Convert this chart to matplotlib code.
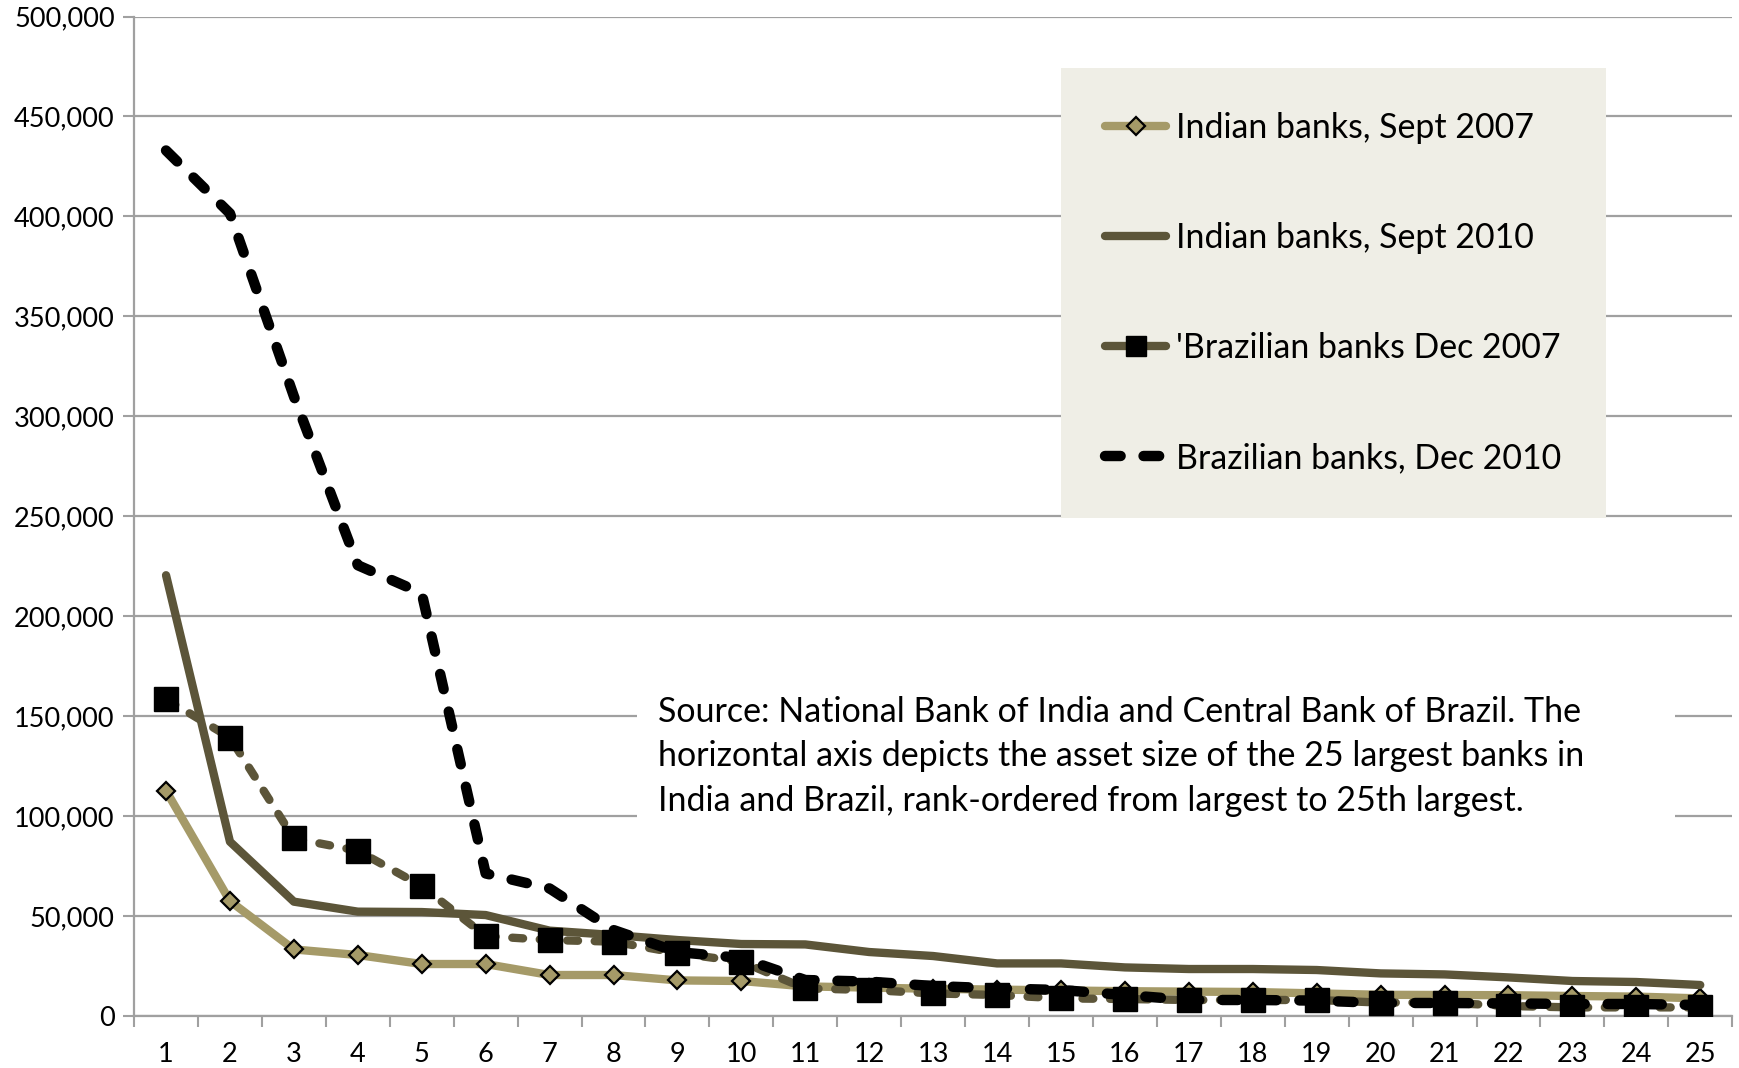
import matplotlib
matplotlib.use("Agg")
import matplotlib.pyplot as plt
import numpy as np
from matplotlib.patches import Rectangle
from matplotlib.ticker import FuncFormatter, MultipleLocator

plt.rcParams['font.family'] = ['Lato', 'DejaVu Sans']

# asset size of the 25 largest banks, rank ordered
ranks = np.arange(1, 26)
india_2007 = [112700, 57500, 33300, 30500, 26000, 26000, 20500, 20500, 17800, 17500,
              14800, 14200, 13600, 13200, 12800, 12400, 12200, 12000, 11300, 10600,
              10500, 10400, 10000, 9700, 8800]
india_2010 = [220500, 87200, 57200, 52200, 52000, 50500, 42700, 40500, 38000, 36000,
              35800, 32000, 30000, 26300, 26300, 24300, 23500, 23500, 23000, 21300,
              20800, 19300, 17500, 17000, 15500]
brazil_2007 = [158500, 139300, 88800, 82700, 65000, 40000, 38000, 37200, 31500, 27200,
               13800, 13000, 11300, 10500, 8800, 8500, 8000, 8000, 8000, 6700,
               6700, 5000, 4300, 4300, 4300]
brazil_2010 = [433000, 401500, 310000, 225500, 211500, 71300, 63800, 43000, 32000, 29000,
               18000, 17200, 15000, 13800, 13000, 10500, 8000, 8000, 7700, 6500,
               6500, 6300, 6000, 6000, 5500]

labels = ["Indian banks, Sept 2007", "Indian banks, Sept 2010",
          "'Brazilian banks Dec 2007", "Brazilian banks, Dec 2010"]
note = ("Source: National Bank of India and Central Bank of Brazil. The\n"
        "horizontal axis depicts the asset size of the 25 largest banks in\n"
        "India and Brazil, rank-ordered from largest to 25th largest.")

tan = '#A59A68'
olive = '#5C5539'
grid = '#A0A0A0'

fig = plt.figure(figsize=(17.39, 10.68), dpi=100)
ax = fig.add_axes([0.0771, 0.0487, 0.919, 0.9358])

ax.plot(ranks, india_2007, color=tan, lw=6, marker='D', ms=9.5, mfc=tan, mec='black',
        mew=1.6, solid_capstyle='round', zorder=3, label=labels[0])
ax.plot(ranks, india_2010, color=olive, lw=6, solid_capstyle='round', zorder=4,
        label=labels[1])
l3, = ax.plot(ranks, brazil_2007, color=olive, lw=6, ls=(0, (1.3, 2.0)), marker='s',
              ms=17.5, mfc='black', mec='black', dash_capstyle='round', zorder=5,
              label=labels[2])
l4, = ax.plot(ranks, brazil_2010, color='black', lw=7.5, ls=(0, (1.5, 2.2)),
              dash_capstyle='round', zorder=6, label=labels[3])

ax.set_xlim(0.5, 25.5)
ax.set_ylim(0, 500000)
ax.yaxis.set_major_locator(MultipleLocator(50000))
ax.yaxis.set_major_formatter(FuncFormatter(lambda v, p: f"{int(v):,}"))
ax.set_xticks(ranks)
ax.set_xticks(np.arange(0.5, 26, 1), minor=True)
ax.tick_params(axis='x', which='major', length=0, labelsize=19.5, pad=19)
ax.tick_params(axis='x', which='minor', length=8, color=grid, width=1.5)
ax.tick_params(axis='y', length=8, color=grid, width=1.5, labelsize=19.5, pad=6)
ax.grid(axis='y', color=grid, lw=1.6, zorder=0)
ax.set_axisbelow(True)
for s in ['top', 'right']:
    ax.spines[s].set_visible(False)
for s in ['left', 'bottom']:
    ax.spines[s].set_color(grid)
    ax.spines[s].set_linewidth(1.6)

# white panel behind the source note hides the gridlines
ax.add_patch(Rectangle((0.315, 0.173), 0.649, 0.178, transform=ax.transAxes,
                       facecolor='white', edgecolor='none', zorder=1))
ax.text(0.3277, 0.3205, note, transform=ax.transAxes, fontsize=24.5, va='top', ha='left',
        linespacing=1.48, zorder=2)

# legend shows the Brazil 2007 line as solid
h3 = plt.Line2D([], [], color=olive, lw=6, marker='s', ms=15, mfc='black',
                mec='black', solid_capstyle='round')
handles = [ax.lines[0], ax.lines[1], h3, l4]
leg = ax.legend(handles, labels, loc='upper left', bbox_to_anchor=(0.58, 0.9486),
                fontsize=24.4, frameon=True, fancybox=False, handlelength=1.8,
                handletextpad=0.3, labelspacing=2.3, borderpad=1.3,
                borderaxespad=0, markerscale=1.0)
leg.get_frame().set_facecolor('#EFEEE6')
leg.get_frame().set_edgecolor('none')
leg.get_frame().set_alpha(1)

fig.savefig('out.png', dpi=100)
